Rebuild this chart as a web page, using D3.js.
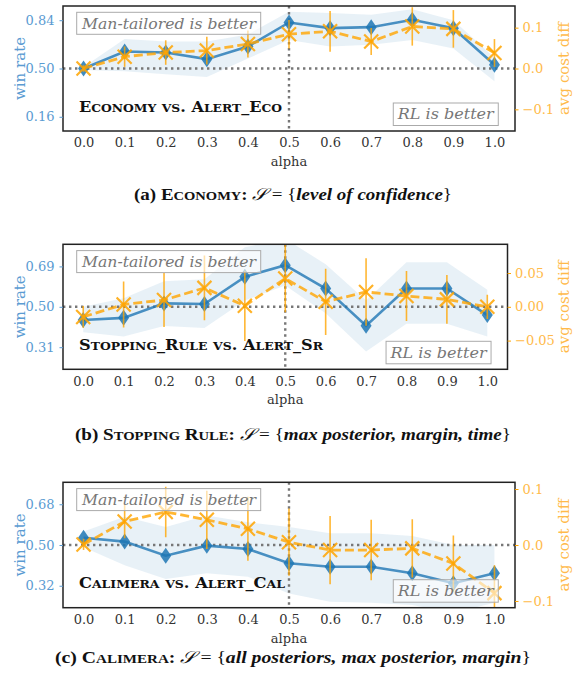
<!DOCTYPE html>
<html>
<head>
<meta charset="utf-8">
<script src="https://cdnjs.cloudflare.com/ajax/libs/d3/7.8.5/d3.min.js"></script>
<style>
  body { margin: 0; background: #fff; }
  svg text { font-family: "DejaVu Serif", serif; }
</style>
</head>
<body>
<script>
// alpha values on the x axis
var alpha = [0, 0.1, 0.2, 0.3, 0.4, 0.5, 0.6, 0.7, 0.8, 0.9, 1.0];

// (a) Economy
var ecoWin     = [0.50, 0.62, 0.613, 0.566, 0.655, 0.824, 0.784, 0.791, 0.843, 0.784, 0.526];
var ecoWinLo   = [0.49, 0.48, 0.46, 0.44, 0.57, 0.70, 0.655, 0.667, 0.70, 0.64, 0.41];
var ecoWinHi   = [0.51, 0.707, 0.69, 0.69, 0.74, 0.90, 0.89, 0.878, 0.918, 0.84, 0.575];
var ecoCost    = [0.0, 0.029, 0.039, 0.044, 0.060, 0.084, 0.091, 0.066, 0.103, 0.097, 0.038];
var ecoCostErr = [0.008, 0.025, 0.03, 0.034, 0.033, 0.035, 0.05, 0.033, 0.047, 0.046, 0.034];

// (b) Stopping Rule
var srWin     = [0.438, 0.448, 0.516, 0.513, 0.641, 0.696, 0.586, 0.411, 0.586, 0.586, 0.461];
var srWinLo   = [0.38, 0.36, 0.41, 0.40, 0.53, 0.60, 0.47, 0.29, 0.42, 0.42, 0.36];
var srWinHi   = [0.50, 0.54, 0.62, 0.63, 0.78, 0.82, 0.70, 0.53, 0.71, 0.71, 0.58];
var srCost    = [-0.015, 0.0035, 0.010, 0.028, 0.0015, 0.042, 0.0074, 0.022, 0.016, 0.011, 0.0];
var srCostErr = [0.016, 0.034, 0.04, 0.048, 0.052, 0.05, 0.049, 0.05, 0.037, 0.036, 0.018];

// (c) Calimera
var calWin     = [0.532, 0.515, 0.453, 0.497, 0.482, 0.419, 0.404, 0.404, 0.375, 0.331, 0.375];
var calWinLo   = [0.49, 0.41, 0.35, 0.375, 0.36, 0.286, 0.249, 0.245, 0.235, 0.20, 0.245];
var calWinHi   = [0.56, 0.625, 0.58, 0.63, 0.60, 0.58, 0.552, 0.552, 0.54, 0.50, 0.50];
var calCost    = [0.001, 0.042, 0.059, 0.045, 0.029, 0.005, -0.009, -0.009, -0.006, -0.033, -0.086];
var calCostErr = [0.01, 0.03, 0.045, 0.052, 0.057, 0.06, 0.061, 0.054, 0.052, 0.05, 0.05];

// tick labels
var xTicks = [0, 0.1, 0.2, 0.3, 0.4, 0.5, 0.6, 0.7, 0.8, 0.9, 1.0];
var ecoWinTicks = [0.16, 0.50, 0.84], ecoCostTicks = [-0.1, 0.0, 0.1];
var srWinTicks = [0.31, 0.50, 0.69], srCostTicks = [-0.05, 0.00, 0.05];
var calWinTicks = [0.32, 0.50, 0.68], calCostTicks = [-0.1, 0.0, 0.1];

var blue = "#1f77b4", blueText = "#5a9bd2", orange = "#ffa500", orangeText = "#ffba4a";

var svg = d3.select("body").append("svg")
  .attr("width", 587).attr("height", 685);

var panels = [
  { id: "a", top: 6, bottom: 131, right: 515,
    win: ecoWin, lo: ecoWinLo, hi: ecoWinHi, cost: ecoCost, err: ecoCostErr,
    winDom: [0.06, 0.94], costDom: [-0.153, 0.153],
    winTicks: ecoWinTicks, costTicks: ecoCostTicks, costFmt: ".1f",
    label: "Economy vs. Alert_Eco", labelW: 203,
    capName: "Economy", capSet: "level of confidence", capY: 200, capW: 318 },
  { id: "b", top: 244.3, bottom: 369.3, right: 507.5,
    win: srWin, lo: srWinLo, hi: srWinHi, cost: srCost, err: srCostErr,
    winDom: [0.206, 0.794], costDom: [-0.0925, 0.0925],
    winTicks: srWinTicks, costTicks: srCostTicks, costFmt: ".2f",
    label: "Stopping_Rule vs. Alert_Sr", labelW: 244,
    capName: "Stopping Rule", capSet: "max posterior, margin, time", capY: 440, capW: 436 },
  { id: "c", top: 482.3, bottom: 607.7, right: 515,
    win: calWin, lo: calWinLo, hi: calWinHi, cost: calCost, err: calCostErr,
    winDom: [0.223, 0.777], costDom: [-0.112, 0.112],
    winTicks: calWinTicks, costTicks: calCostTicks, costFmt: ".1f",
    label: "Calimera vs. Alert_Cal", labelW: 206,
    capName: "Calimera", capSet: "all posteriors, max posterior, margin", capY: 663, capW: 476 }
];

// write a string in small caps using tspans
function smallCaps(sel, str, big, small) {
  var runs = [];
  str.split("").forEach(function(ch) {
    var isSmall = ch >= "a" && ch <= "z";
    var last = runs[runs.length - 1];
    if (last && last.small === isSmall) last.t += ch;
    else runs.push({ t: ch, small: isSmall });
  });
  runs.forEach(function(r) {
    sel.append("tspan")
      .style("font-size", (r.small ? small : big) + "px")
      .text(r.small ? r.t.toUpperCase() : r.t);
  });
}

panels.forEach(drawPanel);

function drawPanel(p) {
  var left = 63;
  var x = d3.scaleLinear().domain([-0.05, 1.05]).range([left, p.right]);
  var yW = d3.scaleLinear().domain(p.winDom).range([p.bottom, p.top]);
  var yC = d3.scaleLinear().domain(p.costDom).range([p.bottom, p.top]);
  var w = p.right - left;

  var g = svg.append("g");

  svg.append("clipPath").attr("id", "clip" + p.id)
    .append("rect").attr("x", left).attr("y", p.top)
    .attr("width", w).attr("height", p.bottom - p.top);

  var plot = g.append("g").attr("clip-path", "url(#clip" + p.id + ")");

  // confidence band
  var area = d3.area()
    .x(function(d, i) { return x(alpha[i]); })
    .y0(function(d, i) { return yW(p.lo[i]); })
    .y1(function(d, i) { return yW(p.hi[i]); });
  plot.append("path").datum(p.win)
    .attr("d", area)
    .attr("fill", blue).attr("fill-opacity", 0.1);

  // reference lines
  plot.append("line")
    .attr("x1", left).attr("x2", p.right)
    .attr("y1", yW(0.5)).attr("y2", yW(0.5))
    .attr("stroke", "#777").attr("stroke-width", 2.4)
    .attr("stroke-dasharray", "2.4,3.6");
  plot.append("line")
    .attr("x1", x(0.5)).attr("x2", x(0.5))
    .attr("y1", p.top).attr("y2", p.bottom)
    .attr("stroke", "#777").attr("stroke-width", 2.4)
    .attr("stroke-dasharray", "2.4,3.6");

  // win rate line + thin diamonds
  var line = d3.line()
    .x(function(d, i) { return x(alpha[i]); })
    .y(function(d) { return yW(d); });
  plot.append("path").datum(p.win)
    .attr("d", line)
    .attr("fill", "none").attr("stroke", blue)
    .attr("stroke-opacity", 0.8).attr("stroke-width", 2.6);
  plot.selectAll(".dia").data(p.win).enter().append("path")
    .attr("class", "dia")
    .attr("transform", function(d, i) { return "translate(" + x(alpha[i]) + "," + yW(d) + ")"; })
    .attr("d", "M0,-8 L5.5,0 L0,8 L-5.5,0 Z")
    .attr("fill", blue).attr("fill-opacity", 0.85);

  // avg cost diff: error bars, dashed line, x markers
  plot.selectAll(".err").data(p.cost).enter().append("line")
    .attr("class", "err")
    .attr("x1", function(d, i) { return x(alpha[i]); })
    .attr("x2", function(d, i) { return x(alpha[i]); })
    .attr("y1", function(d, i) { return yC(d - p.err[i]); })
    .attr("y2", function(d, i) { return yC(d + p.err[i]); })
    .attr("stroke", orange).attr("stroke-opacity", 0.8).attr("stroke-width", 1.6);
  var cline = d3.line()
    .x(function(d, i) { return x(alpha[i]); })
    .y(function(d) { return yC(d); });
  plot.append("path").datum(p.cost)
    .attr("d", cline)
    .attr("fill", "none").attr("stroke", orange)
    .attr("stroke-opacity", 0.8).attr("stroke-width", 2.8)
    .attr("stroke-dasharray", "9,4");
  plot.selectAll(".xm").data(p.cost).enter().append("path")
    .attr("class", "xm")
    .attr("transform", function(d, i) { return "translate(" + x(alpha[i]) + "," + yC(d) + ")"; })
    .attr("d", "M-7,-7 L7,7 M-7,7 L7,-7")
    .attr("stroke", orange).attr("stroke-opacity", 0.85).attr("stroke-width", 2.2);

  // axes frame
  g.append("rect")
    .attr("x", left).attr("y", p.top)
    .attr("width", w).attr("height", p.bottom - p.top)
    .attr("fill", "none").attr("stroke", "#222").attr("stroke-width", 1.5);

  // x axis
  var xa = g.append("g")
    .attr("transform", "translate(0," + p.bottom + ")")
    .call(d3.axisBottom(x).tickValues(xTicks).tickFormat(d3.format(".1f")).tickSize(0).tickPadding(7));
  xa.select(".domain").remove();
  xa.selectAll("text").style("font-size", "13px").attr("fill", "#333")
    .style("font-family", "DejaVu Serif");
  g.append("text")
    .attr("x", (left + p.right) / 2).attr("y", p.bottom + 35)
    .attr("text-anchor", "middle").attr("fill", "#333")
    .style("font-size", "13px").text("alpha");

  // left axis (win rate)
  var ya = g.append("g")
    .attr("transform", "translate(" + left + ",0)")
    .call(d3.axisLeft(yW).tickValues(p.winTicks).tickFormat(d3.format(".2f")).tickSize(3.5).tickPadding(5));
  ya.select(".domain").remove();
  ya.selectAll("line").attr("stroke", blueText);
  ya.selectAll("text").style("font-size", "13px").attr("fill", blueText)
    .style("font-family", "DejaVu Serif");
  g.append("text")
    .attr("transform", "translate(25," + ((p.top + p.bottom) / 2) + ") rotate(-90)")
    .attr("text-anchor", "middle").attr("fill", blueText)
    .style("font-size", "15px").text("win rate");

  // right axis (avg cost diff)
  var ca = g.append("g")
    .attr("transform", "translate(" + p.right + ",0)")
    .call(d3.axisRight(yC).tickValues(p.costTicks).tickFormat(d3.format(p.costFmt)).tickSize(3.5).tickPadding(4));
  ca.select(".domain").remove();
  ca.selectAll("line").attr("stroke", orange);
  ca.selectAll("text").style("font-size", "13px").attr("fill", orangeText)
    .style("font-family", "DejaVu Serif");
  g.append("text")
    .attr("transform", "translate(569," + ((p.top + p.bottom) / 2) + ") rotate(-90)")
    .attr("text-anchor", "middle").attr("fill", orangeText)
    .style("font-size", "15px").text("avg cost diff");

  // method label in small caps
  var lab = g.append("text")
    .attr("x", 79).attr("y", p.bottom - 19.5)
    .attr("fill", "#111").style("font-weight", "bold")
    .attr("textLength", p.labelW).attr("lengthAdjust", "spacingAndGlyphs");
  smallCaps(lab, p.label, 15, 11.5);

  // annotation boxes
  var b1 = g.append("g");
  b1.append("rect")
    .attr("x", 76.7).attr("y", p.top + 6.3)
    .attr("width", 184).attr("height", 22)
    .attr("fill", "#fff").attr("fill-opacity", 0.6)
    .attr("stroke", "#aaa").attr("stroke-width", 1);
  b1.append("text")
    .attr("x", 82).attr("y", p.top + 22.5)
    .attr("fill", "#777").style("font-style", "italic").style("font-size", "15px")
    .attr("textLength", 174).attr("lengthAdjust", "spacingAndGlyphs")
    .text("Man-tailored is better");

  var rbx = left + 0.963 * w - 105;
  var b2 = g.append("g");
  b2.append("rect")
    .attr("x", rbx).attr("y", p.bottom - 28)
    .attr("width", 105).attr("height", 22.5)
    .attr("fill", "#fff").attr("fill-opacity", 0.6)
    .attr("stroke", "#aaa").attr("stroke-width", 1);
  b2.append("text")
    .attr("x", rbx + 4.5).attr("y", p.bottom - 11.8)
    .attr("fill", "#777").style("font-style", "italic").style("font-size", "15px")
    .attr("textLength", 96).attr("lengthAdjust", "spacingAndGlyphs")
    .text("RL is better");

  // caption
  var cap = svg.append("text")
    .attr("x", 293 - p.capW / 2).attr("y", p.capY)
    .attr("fill", "#111")
    .style("font-family", "Liberation Serif, serif")
    .style("font-size", "17px")
    .attr("textLength", p.capW).attr("lengthAdjust", "spacingAndGlyphs");
  cap.append("tspan").style("font-weight", "bold").text("(" + p.id + ") ");
  var nm = cap.append("tspan").style("font-weight", "bold");
  smallCaps(nm, p.capName, 17, 13);
  cap.append("tspan").style("font-weight", "bold").text(": ");
  cap.append("tspan").style("font-style", "italic").text("\uD835\uDCAE");
  cap.append("tspan").text(" = {");
  cap.append("tspan").style("font-weight", "bold").style("font-style", "italic").text(p.capSet);
  cap.append("tspan").text("}");
}
</script>
</body>
</html>
